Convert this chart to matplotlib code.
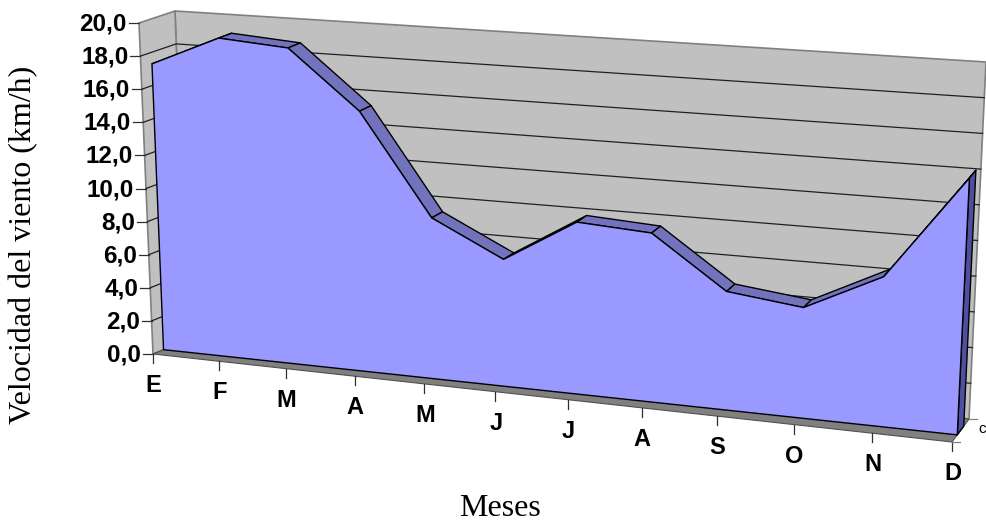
import numpy as np
import matplotlib
matplotlib.use("Agg")
import matplotlib.pyplot as plt
from matplotlib.patches import Polygon

months = ["E", "F", "M", "A", "M", "J", "J", "A", "S", "O", "N", "D"]
wind_kmh = [17.3, 19.15, 18.85, 15.4, 9.45, 7.4, 9.95, 9.7, 6.75, 6.25, 8.4, 14.3]
y_ticks = [0, 2, 4, 6, 8, 10, 12, 14, 16, 18, 20]
y_labels = ["0,0", "2,0", "4,0", "6,0", "8,0", "10,0", "12,0", "14,0", "16,0", "18,0", "20,0"]
depth_label = "c"

# Axis box of the 3-D scene, as seen on the page (pixels)
corners = {
    (0, 0, 0): (153, 354), (0, 1, 0): (139, 23),
    (0, 0, 1): (187, 340), (0, 1, 1): (175, 11),
    (1, 0, 0): (952, 442), (1, 1, 0): (969, 82),
    (1, 0, 1): (969, 419), (1, 1, 1): (986, 62),
}
PERSP = 0.90
YMAX = 20.0
D_FRONT, D_BACK = 0.31, 0.69


def project(i, value, depth):
    """Category index, value and depth to page position."""
    u = i / (len(months) - 1)
    u = PERSP * u / (1 + (PERSP - 1) * u)
    v = value / YMAX
    p = np.zeros(2)
    for (a, b, c), xy in corners.items():
        w = (u if a else 1 - u) * (v if b else 1 - v) * (depth if c else 1 - depth)
        p += w * np.array(xy, float)
    return p


fig = plt.figure(figsize=(9.87, 5.24), dpi=100)
ax = fig.add_axes([0, 0, 1, 1])
ax.set_xlim(0, 987)
ax.set_ylim(524, 0)
ax.axis("off")

WALL = "#C0C0C0"
FLOOR = "#808080"
FACE = "#9999FF"
TOP = "#7373BD"
END = "#4F4F9F"
EDGE = "#808080"
last = len(months) - 1


def poly(points, fc, ec, lw=0.8, z=1):
    ax.add_patch(Polygon(points, closed=True, fc=fc, ec=ec, lw=lw, zorder=z, joinstyle="round"))


# walls and floor
poly([project(0, 0, 1), project(0, YMAX, 1), project(last, YMAX, 1), project(last, 0, 1)], WALL, EDGE, 1.2, 1)
poly([project(0, 0, 0), project(0, YMAX, 0), project(0, YMAX, 1), project(0, 0, 1)], WALL, EDGE, 1.2, 1)
poly([project(0, 0, 0), project(last, 0, 0), project(last, 0, 1), project(0, 0, 1)], FLOOR, "#505050", 0.8, 1.5)

# gridlines on both walls
for t in y_ticks:
    if t in (0, 20):
        continue
    pts = np.array([project(0, t, 0), project(0, t, 1), project(last, t, 1)])
    ax.plot(pts[:, 0], pts[:, 1], color="#202020", lw=0.9, zorder=2)

# y axis ticks and labels
for t, lab in zip(y_ticks, y_labels):
    p = project(0, t, 0)
    ax.plot([p[0] - 10, p[0]], [p[1], p[1]], color="#303030", lw=0.9, zorder=2)
    ax.text(p[0] - 12, p[1] + 1, lab, ha="right", va="center", family="Liberation Sans",
            weight="bold", fontsize=17.5, color="black")

# month ticks and labels
for i, m in enumerate(months):
    p = project(i, 0, 0)
    ax.plot([p[0], p[0]], [p[1], p[1] + 9], color="#303030", lw=0.9, zorder=2)
    ax.text(p[0] + 0.5, p[1] + 31.5, m, ha="center", va="center", family="Liberation Sans",
            weight="bold", fontsize=17, color="black")

# depth axis tick and label
p0 = project(last, 0, 0)
p1 = project(last, 0, 1)
ax.plot([p0[0], p0[0] + 8], [p0[1], p0[1]], color=EDGE, lw=0.9, zorder=2)
ax.plot([p1[0], p1[0] + 8], [p1[1], p1[1]], color=EDGE, lw=0.9, zorder=2)
ax.text(p1[0] + 13, p1[1] + 10, depth_label, ha="center", va="center",
        family="Liberation Sans", fontsize=11, color="black")

# ribbon top faces (drawn first; the front face hides those facing away)
for i in range(last):
    v0, v1 = wind_kmh[i], wind_kmh[i + 1]
    poly([project(i, v0, D_FRONT), project(i, v0, D_BACK),
          project(i + 1, v1, D_BACK), project(i + 1, v1, D_FRONT)], TOP, "black", 1.0, 3)

# right end face
poly([project(last, wind_kmh[-1], D_FRONT), project(last, wind_kmh[-1], D_BACK),
      project(last, 0, D_BACK), project(last, 0, D_FRONT)], END, "black", 1.0, 3)

# front face
front = [project(0, 0, D_FRONT)]
front += [project(i, v, D_FRONT) for i, v in enumerate(wind_kmh)]
front += [project(last, 0, D_FRONT)]
poly(front, FACE, "black", 1.0, 4)

ax.text(23.5, 245, "Velocidad del viento (km/h)", rotation=90, ha="center", va="center",
        family="Liberation Serif", fontsize=23, color="black")
ax.text(499.5, 509, "Meses", ha="center", va="center",
        family="Liberation Serif", fontsize=23, color="black")

fig.savefig("out.png", dpi=100, facecolor="white")
